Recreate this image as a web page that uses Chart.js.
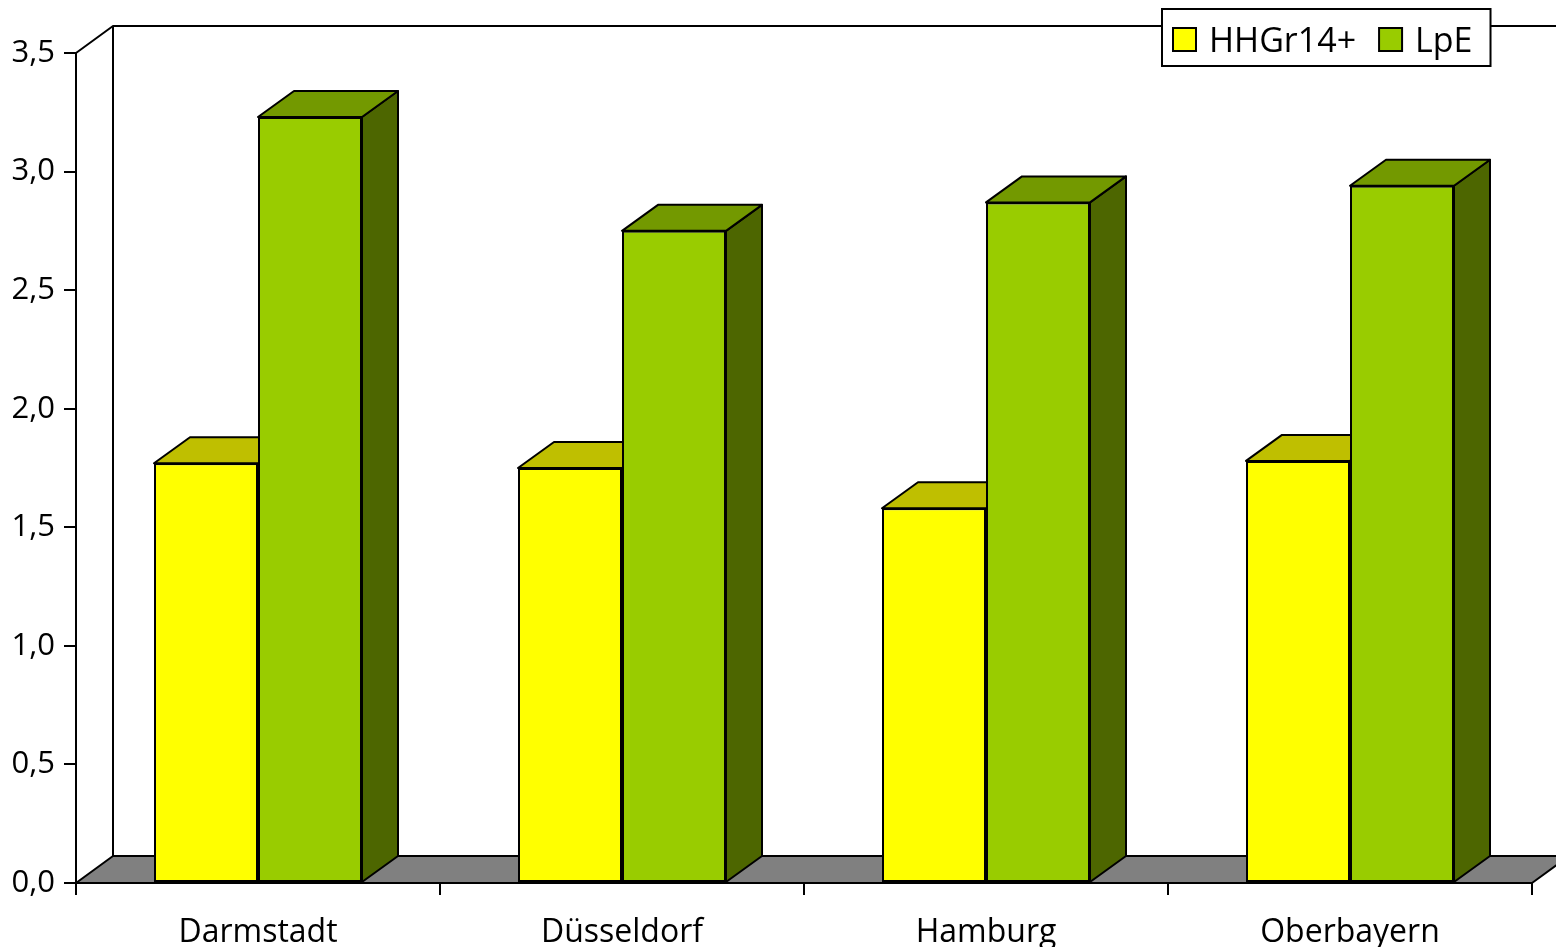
<!DOCTYPE html>
<html><head><meta charset="utf-8">
<script src="https://cdn.jsdelivr.net/npm/chart.js@4"></script>
<style>html,body{margin:0;padding:0;background:#fff;}canvas{display:block}</style>
</head><body>
<canvas id="c" width="1556" height="947"></canvas>
<script>
const categories = ['Darmstadt', 'Düsseldorf', 'Hamburg', 'Oberbayern'];
const seriesNames = ['HHGr14+', 'LpE'];
const hhgr14 = [1.77, 1.75, 1.58, 1.78];
const lpe = [3.23, 2.75, 2.87, 2.94];
const yTicks = [0, 0.5, 1.0, 1.5, 2.0, 2.5, 3.0, 3.5];

const FONT = '"Open Sans", "DejaVu Sans", sans-serif';
const BAR_DX = 36, BAR_DY = 26, WALL_DX = 37, WALL_DY = 27;

function poly(ctx, pts, fill) {
  ctx.beginPath();
  ctx.moveTo(pts[0][0], pts[0][1]);
  for (let i = 1; i < pts.length; i++) ctx.lineTo(pts[i][0], pts[i][1]);
  ctx.closePath();
  ctx.fillStyle = fill;
  ctx.fill();
  ctx.stroke();
}

const threeD = {
  id: 'threeD',
  beforeDatasetsDraw(chart) {
    const ctx = chart.ctx, a = chart.chartArea;
    ctx.save();
    ctx.lineWidth = 2;
    ctx.strokeStyle = '#000';
    ctx.lineJoin = 'round';
    // back wall outline
    ctx.beginPath();
    ctx.moveTo(a.left, a.top);
    ctx.lineTo(a.left + WALL_DX, a.top - WALL_DY);
    ctx.lineTo(a.right + WALL_DX, a.top - WALL_DY);
    ctx.moveTo(a.left + WALL_DX, a.top - WALL_DY);
    ctx.lineTo(a.left + WALL_DX, a.bottom - WALL_DY);
    ctx.stroke();
    // floor
    poly(ctx, [[a.left, a.bottom], [a.left + WALL_DX, a.bottom - WALL_DY],
               [a.right + WALL_DX, a.bottom - WALL_DY], [a.right, a.bottom]], '#808080');
    // bar tops and sides
    chart.data.datasets.forEach((ds, i) => {
      const meta = chart.getDatasetMeta(i);
      meta.data.forEach(bar => {
        const xl = bar.x - bar.width / 2, xr = bar.x + bar.width / 2;
        const yt = bar.y, yb = bar.base;
        poly(ctx, [[xr, yt], [xr + BAR_DX, yt - BAR_DY], [xr + BAR_DX, yb - BAR_DY], [xr, yb]], ds.sideColor);
        poly(ctx, [[xl, yt], [xl + BAR_DX, yt - BAR_DY], [xr + BAR_DX, yt - BAR_DY], [xr, yt]], ds.topColor);
      });
    });
    ctx.restore();
  }
};

const legendBox = {
  id: 'legendBox',
  afterDraw(chart) {
    const ctx = chart.ctx;
    ctx.save();
    ctx.font = '34px ' + FONT;
    const left = 1162, top = 9, height = 57, sq = 23;
    let x = left + 11;
    const items = chart.data.datasets.map(ds => ({ label: ds.label, color: ds.backgroundColor }));
    let w = 11;
    items.forEach((it, i) => {
      w += sq + 13 + ctx.measureText(it.label).width + (i < items.length - 1 ? 23 : 18);
    });
    ctx.fillStyle = '#fff';
    ctx.fillRect(left, top, w, height);
    ctx.lineWidth = 2;
    ctx.strokeStyle = '#000';
    ctx.strokeRect(left, top, w, height);
    items.forEach((it, i) => {
      ctx.fillStyle = it.color;
      ctx.fillRect(x, top + 19, sq, sq);
      ctx.strokeRect(x, top + 19, sq, sq);
      x += sq + 13;
      ctx.fillStyle = '#000';
      ctx.textBaseline = 'alphabetic';
      ctx.fillText(it.label, x, top + 43);
      x += ctx.measureText(it.label).width + 23;
    });
    ctx.restore();
  }
};

new Chart(document.getElementById('c'), {
  type: 'bar',
  data: {
    labels: categories,
    datasets: [
      { label: seriesNames[0], data: hhgr14, backgroundColor: '#FFFF00', topColor: '#BFBF00', sideColor: '#808000',
        borderColor: '#000', borderWidth: 2, borderSkipped: false },
      { label: seriesNames[1], data: lpe, backgroundColor: '#99CC00', topColor: '#739900', sideColor: '#4D6600',
        borderColor: '#000', borderWidth: 2, borderSkipped: false }
    ]
  },
  options: {
    responsive: false,
    animation: false,
    events: [],
    categoryPercentage: 208 / 364,
    barPercentage: 1.0,
    layout: { padding: { top: 53, right: 24, left: 0, bottom: 0 } },
    plugins: { legend: { display: false }, tooltip: { enabled: false } },
    scales: {
      x: {
        grid: { offset: true, drawOnChartArea: false, drawTicks: true, tickLength: 12, color: '#000', lineWidth: 2 },
        border: { display: true, color: '#000', width: 2 },
        ticks: { font: { family: FONT, size: 32 }, color: '#000', padding: 19, maxRotation: 0, autoSkip: false },
        afterFit(s) { s.height = 64; }
      },
      y: {
        min: 0, max: 3.5,
        afterBuildTicks(s) { s.ticks = yTicks.map(v => ({ value: v })); },
        grid: { drawOnChartArea: false, drawTicks: true, tickLength: 12, color: '#000', lineWidth: 2 },
        border: { display: true, color: '#000', width: 2 },
        ticks: { font: { family: FONT, size: 31 }, color: '#000', padding: 9,
                 callback: v => Number(v).toFixed(1).replace('.', ',') },
        afterFit(s) { s.width = 76; }
      }
    }
  },
  plugins: [threeD, legendBox]
});
</script>
</body></html>
